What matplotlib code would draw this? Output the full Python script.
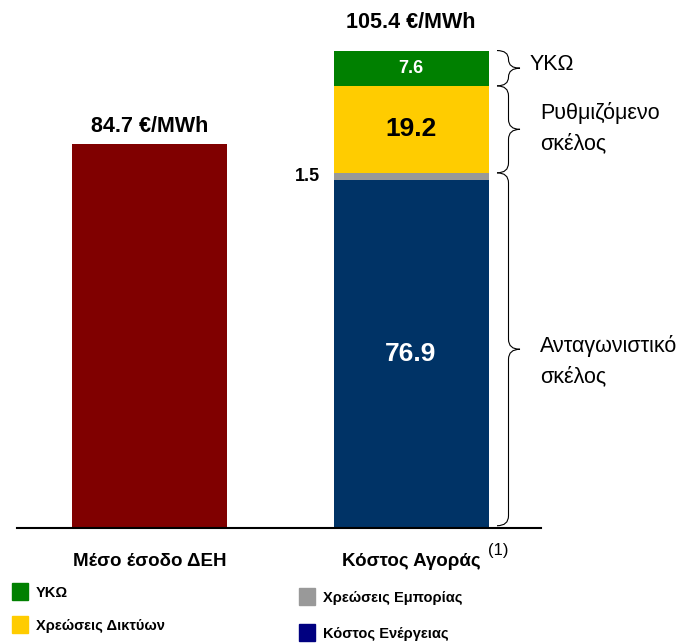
import matplotlib.pyplot as plt
from matplotlib.path import Path
from matplotlib.patches import PathPatch, Rectangle

plt.rcParams['font.family'] = ['Liberation Sans', 'DejaVu Sans']

# data
categories = ['Μέσο έσοδο ΔΕΗ', 'Κόστος Αγοράς']
deh_total = 84.7
seg_names = ['Κόστος Ενέργειας', 'Χρεώσεις Εμπορίας', 'Χρεώσεις Δικτύων', 'ΥΚΩ']
seg_values = [76.9, 1.5, 19.2, 7.6]
market_total = 105.4
brace_labels = ['Ανταγωνιστικό\nσκέλος', 'Ρυθμιζόμενο\nσκέλος', 'ΥΚΩ']

seg_colors = ['#003366', '#999999', '#FFCC00', '#008000']
legend_colors = {'ΥΚΩ': '#008000', 'Χρεώσεις Δικτύων': '#FFCC00',
                 'Χρεώσεις Εμπορίας': '#999999', 'Κόστος Ενέργειας': '#000080'}

W, H = 681, 643
fig = plt.figure(figsize=(W / 100, H / 100), dpi=100)
# axes in pixel terms: left 17, right 541, baseline at y=528
ppu = 4.53  # pixels per value unit
ax = fig.add_axes([17 / W, (H - 528) / H, (541 - 17) / W, 528 / H])
ax.set_ylim(0, 528 / ppu)
# bar centres at px 149.5 and 411
step = 261.5
ax.set_xlim(-(149.5 - 17) / step, (541 - 149.5) / step)
bw = 155 / step

ax.bar(0, deh_total, width=bw, color='#800000')
bottom = 0
for v, c in zip(seg_values, seg_colors):
    ax.bar(1, v, width=bw, bottom=bottom, color=c)
    bottom += v

for s in ['top', 'right', 'left']:
    ax.spines[s].set_visible(False)
ax.spines['bottom'].set_linewidth(1.5)
ax.set_xticks([])
ax.set_yticks([])

# totals
ax.text(0, deh_total + 4.0, f'{deh_total} €/MWh', ha='center', va='center',
        fontsize=15.5, fontweight='bold')
ax.text(1, market_total + 6.2, f'{market_total} €/MWh', ha='center', va='center',
        fontsize=15.5, fontweight='bold')

# segment labels
ax.text(1, seg_values[0] / 2, f'{seg_values[0]}', ha='center', va='center',
        fontsize=19, fontweight='bold', color='white')
ax.text(1 - bw / 2 - 0.05, seg_values[0] + seg_values[1] / 2, f'{seg_values[1]}',
        ha='right', va='center', fontsize=13, fontweight='bold')
y_net = seg_values[0] + seg_values[1]
ax.text(1, y_net + seg_values[2] / 2, f'{seg_values[2]}', ha='center', va='center',
        fontsize=19, fontweight='bold')
ax.text(1, y_net + seg_values[2] + seg_values[3] / 2, f'{seg_values[3]}',
        ha='center', va='center', fontsize=13, fontweight='bold', color='white')


def brace(ax, x0, y0, y1, w):
    ym = (y0 + y1) / 2
    d = min(2.2, (y1 - y0) / 4)
    xm = x0 + w / 2
    verts = [(x0, y1), (xm, y1), (xm, y1 - d),
             (xm, ym + d), (xm, ym), (x0 + w, ym),
             (xm, ym), (xm, ym - d),
             (xm, y0 + d), (xm, y0), (x0, y0)]
    codes = [Path.MOVETO, Path.CURVE3, Path.CURVE3,
             Path.LINETO, Path.CURVE3, Path.CURVE3,
             Path.CURVE3, Path.CURVE3,
             Path.LINETO, Path.CURVE3, Path.CURVE3]
    ax.add_patch(PathPatch(Path(verts, codes), fc='none', ec='black', lw=0.8,
                           clip_on=False))


bx = (497 - 149.5) / step
bwid = 23 / step
spans = [(0.5, y_net), (y_net, y_net + seg_values[2]),
         (y_net + seg_values[2], market_total)]
for (a, b), lab in zip(spans, brace_labels):
    brace(ax, bx, a, b, bwid)
ax.text((530 - 149.5) / step, (528 - 64) / ppu, brace_labels[2], ha='left',
        va='center', fontsize=15.5)
ax.text((540 - 149.5) / step, (528 - 128) / ppu, brace_labels[1], ha='left',
        va='center', fontsize=15.5, linespacing=1.6)
ax.text((540 - 149.5) / step, (528 - 361) / ppu, brace_labels[0], ha='left',
        va='center', fontsize=15.5, linespacing=1.6, clip_on=False)

# category labels
fig.text(149.5 / W, 1 - 562 / H, categories[0], ha='center', va='center',
         fontsize=13.5, fontweight='bold')
fig.text(411 / W, 1 - 562 / H, categories[1], ha='center', va='center',
         fontsize=13.5, fontweight='bold')
fig.text(488 / W, 1 - 550 / H, '(1)', ha='left', va='center', fontsize=12)

# legend
leg_items = [('ΥΚΩ', 12, 583), ('Χρεώσεις Δικτύων', 12, 616),
             ('Χρεώσεις Εμπορίας', 299, 588), ('Κόστος Ενέργειας', 299, 624)]
for name, x, y in leg_items:
    fig.patches.append(Rectangle((x / W, 1 - (y + 17) / H), 16 / W, 17 / H,
                                 transform=fig.transFigure,
                                 color=legend_colors[name]))
    fig.text((x + 24) / W, 1 - (y + 10) / H, name, ha='left', va='center',
             fontsize=10.5, fontweight='bold')

fig.savefig('out.png', dpi=100)
